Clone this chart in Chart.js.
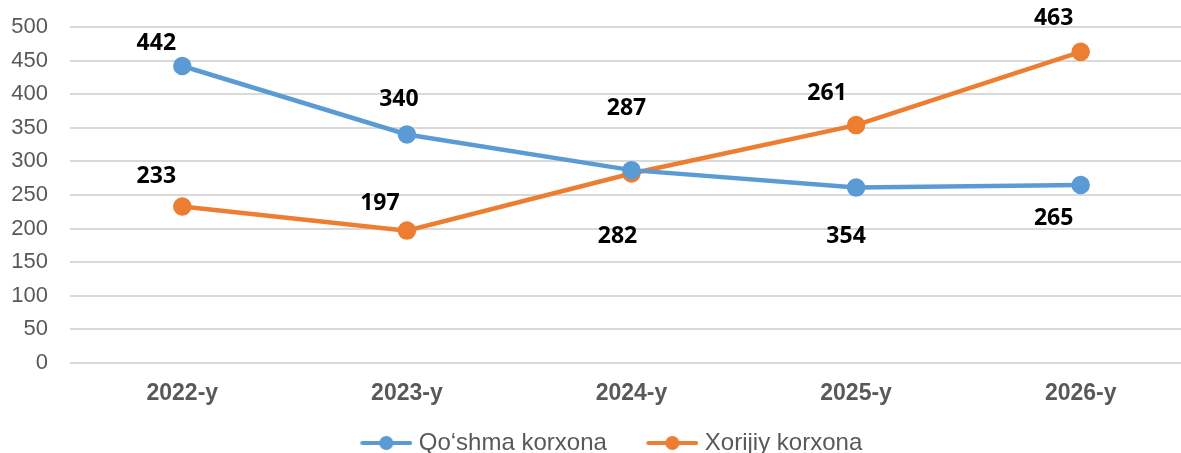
<!DOCTYPE html>
<html>
<head>
<meta charset="utf-8">
<script src="https://cdn.jsdelivr.net/npm/chart.js@4"></script>
<style>
	html, body { margin: 0; padding: 0; background: #fff; overflow: hidden; }
	/* the original plot area runs a bit past the right edge of the picture */
	#frame { width: 1181px; height: 453px; overflow: hidden; }
	canvas { display: block; }
</style>
</head>
<body>
<div id="frame"><canvas id="chart" width="1193" height="453"></canvas></div>
<script>
const years = ['2022-y', '2023-y', '2024-y', '2025-y', '2026-y'];
const qoshma = [442, 340, 287, 261, 265];
const xorijiy = [233, 197, 282, 354, 463];
const yTicks = [0, 50, 100, 150, 200, 250, 300, 350, 400, 450, 500];

// where each value label sits, relative to its own point (px)
const qoshmaLabelShift = [[-26, -23], [-8, -35], [-5, -62], [-29, -94], [-27, 34]];
const xorijiyLabelShift = [[-26, -30], [-27, -27], [-14, 63], [-10, 111], [-27, -33]];

const blue = '#5B9BD5';
const orange = '#ED7D31';

// line-with-dot marker, transparent on the left so items sit further apart
function legendMarker(color) {
	const c = document.createElement('canvas');
	c.width = 87;
	c.height = 16;
	const ctx = c.getContext('2d');
	ctx.strokeStyle = color;
	ctx.lineWidth = 4;
	ctx.lineCap = 'round';
	ctx.beginPath();
	ctx.moveTo(37, 8);
	ctx.lineTo(85, 8);
	ctx.stroke();
	ctx.fillStyle = color;
	ctx.beginPath();
	ctx.arc(61, 8, 7, 0, Math.PI * 2);
	ctx.fill();
	return c;
}

const valueLabels = {
	id: 'valueLabels',
	afterDatasetsDraw(chart) {
		const ctx = chart.ctx;
		const shifts = [qoshmaLabelShift, xorijiyLabelShift];
		ctx.save();
		ctx.font = 'bold 23px "Open Sans", sans-serif';
		ctx.fillStyle = '#000';
		ctx.textAlign = 'center';
		ctx.textBaseline = 'middle';
		chart.data.datasets.forEach((ds, d) => {
			chart.getDatasetMeta(d).data.forEach((pt, i) => {
				const s = shifts[d][i];
				ctx.fillText(String(ds.data[i]), pt.x + s[0], pt.y + s[1]);
			});
		});
		ctx.restore();
	}
};

new Chart(document.getElementById('chart'), {
	type: 'line',
	data: {
		labels: years,
		datasets: [
			{
				label: 'Qo‘shma korxona',
				data: qoshma,
				borderColor: blue,
				backgroundColor: blue,
				borderWidth: 4.5,
				pointRadius: 7,
				pointHoverRadius: 7,
				tension: 0
			},
			{
				label: 'Xorijiy korxona',
				data: xorijiy,
				borderColor: orange,
				backgroundColor: orange,
				borderWidth: 4.5,
				pointRadius: 7,
				pointHoverRadius: 7,
				tension: 0
			}
		]
	},
	options: {
		responsive: false,
		animation: false,
		// legend sits low, partly below the picture edge like the original
		layout: { autoPadding: false, padding: { top: 27, left: 0, right: 0, bottom: -12 } },
		plugins: {
			tooltip: { enabled: false },
			legend: {
				position: 'bottom',
				labels: {
					usePointStyle: true,
					pointStyleWidth: 76,
					padding: 10,
					color: '#595959',
					font: { family: '"Liberation Sans", Arial, sans-serif', size: 24 },
					generateLabels(chart) {
						return chart.data.datasets.map((ds, i) => ({
							text: ds.label,
							pointStyle: legendMarker(ds.borderColor),
							fillStyle: ds.borderColor,
							strokeStyle: ds.borderColor,
							lineWidth: 0,
							fontColor: '#595959',
							hidden: false,
							datasetIndex: i
						}));
					}
				}
			}
		},
		scales: {
			x: {
				offset: true,
				grid: { display: false },
				border: { display: false },
				ticks: {
					color: '#595959',
					padding: 9,
					font: { family: '"Liberation Sans", Arial, sans-serif', size: 23, weight: 'bold' }
				},
				afterFit(scale) { scale.height = 58; }
			},
			y: {
				min: 0,
				max: 500,
				afterBuildTicks(scale) { scale.ticks = yTicks.map(v => ({ value: v })); },
				grid: { color: '#d9d9d9', lineWidth: 2, drawTicks: false },
				border: { display: false },
				ticks: {
					color: '#595959',
					padding: 22,
					font: { family: '"Liberation Sans", Arial, sans-serif', size: 22 }
				},
				afterFit(scale) {
					scale.width = 70;
					scale.paddingTop = 0;
				}
			}
		}
	},
	plugins: [valueLabels]
});
</script>
</body>
</html>
